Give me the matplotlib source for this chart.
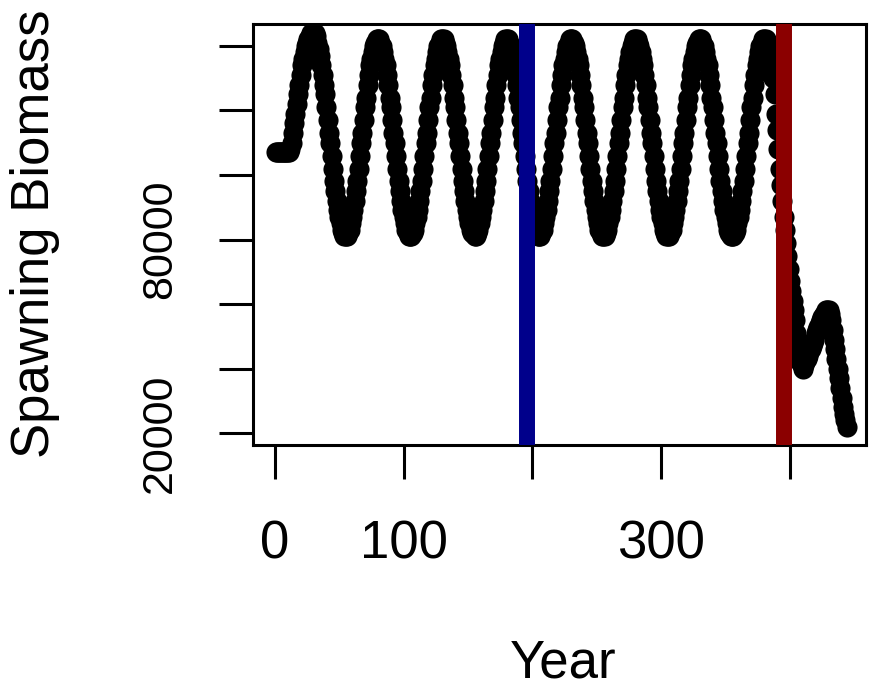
import matplotlib
matplotlib.use("Agg")
import matplotlib.pyplot as plt

# Spawning biomass by year, in thousands of tonnes
biomass_thousands = [
    # years 1-11
    107, 107, 107, 107, 107, 107, 107, 107, 107, 107, 107,
    # years 12-30
    108, 110, 113, 116, 119, 122, 125, 128, 131, 134, 136, 138, 140, 141, 142,
    143, 144, 144, 144,
    # years 31-55
    144, 143, 141, 139, 137, 134, 131, 128, 125, 121, 117, 113, 110, 106, 102,
    98, 95, 92, 89, 87, 85, 83, 82, 81, 81,
    # years 56-80
    81, 82, 83, 85, 87, 89, 92, 95, 98, 102, 106, 110, 113, 117, 121,
    124, 128, 131, 134, 136, 138, 140, 141, 142, 142,
    # years 81-105
    142, 141, 140, 138, 136, 134, 131, 128, 124, 121, 117, 113, 110, 106, 102,
    98, 95, 92, 89, 87, 85, 83, 82, 81, 81,
    # years 106-130
    81, 82, 83, 85, 87, 89, 92, 95, 98, 102, 106, 110, 113, 117, 121,
    124, 128, 131, 134, 136, 138, 140, 141, 142, 142,
    # years 131-155
    142, 141, 140, 138, 136, 134, 131, 128, 124, 121, 117, 113, 110, 106, 102,
    98, 95, 92, 89, 87, 85, 83, 82, 82, 81,
    # years 156-180
    81, 82, 83, 85, 87, 89, 92, 95, 98, 102, 106, 110, 113, 117, 121,
    124, 128, 131, 134, 136, 138, 140, 141, 142, 142,
    # years 181-205
    142, 141, 140, 138, 136, 134, 131, 128, 124, 121, 117, 113, 110, 106, 102,
    98, 95, 92, 89, 87, 85, 83, 82, 81, 81,
    # years 206-230
    81, 82, 83, 85, 87, 89, 92, 95, 98, 102, 106, 110, 113, 117, 121,
    124, 128, 131, 134, 136, 138, 140, 141, 142, 142,
    # years 231-255
    142, 141, 140, 138, 136, 134, 131, 128, 124, 121, 117, 113, 110, 106, 102,
    98, 95, 92, 89, 87, 85, 83, 82, 81, 81,
    # years 256-280
    81, 82, 83, 85, 87, 89, 92, 95, 98, 102, 106, 110, 113, 117, 121,
    124, 128, 131, 134, 136, 138, 140, 141, 142, 142,
    # years 281-305
    142, 141, 140, 138, 136, 134, 131, 128, 124, 121, 117, 113, 110, 106, 102,
    98, 95, 92, 89, 87, 85, 83, 82, 81, 81,
    # years 306-330
    81, 82, 83, 85, 87, 89, 92, 95, 98, 102, 106, 110, 113, 117, 121,
    124, 128, 131, 134, 136, 138, 140, 141, 142, 142,
    # years 331-355
    142, 141, 140, 138, 136, 134, 131, 128, 124, 121, 117, 113, 110, 106, 102,
    98, 95, 92, 89, 87, 85, 83, 82, 81, 81,
    # years 356-380
    81, 82, 83, 85, 87, 89, 92, 95, 98, 102, 106, 110, 113, 117, 121,
    124, 128, 131, 134, 136, 138, 140, 141, 142, 142,
    # years 381-444
    142, 141, 140, 138, 136, 133, 130, 125, 119, 114,
    108, 102, 97, 92, 87, 83, 79, 75, 71, 67,
    64, 61, 58, 55, 51, 47, 44, 42, 41, 40,
    41, 42, 43, 44, 45, 46, 47, 48, 49, 51,
    52, 53, 54, 55, 56, 57, 57, 58, 58, 58,
    57, 55, 52, 49, 46, 43, 40, 37, 34, 31,
    28, 26, 24, 22,
]
years = list(range(1, len(biomass_thousands) + 1))
spawning_biomass = [v * 1000 for v in biomass_thousands]

# Reference years marked with vertical lines
marker_years = [196, 395]
marker_colors = ["#00008B", "#8B0000"]

x_ticks = [0, 100, 200, 300, 400]
x_tick_labels = ["0", "100", "", "300", ""]
y_ticks = [20000, 40000, 60000, 80000, 100000, 120000, 140000]
y_tick_labels = ["20000", "", "", "80000", "", "", ""]

plt.rcParams["font.family"] = ["Liberation Sans", "DejaVu Sans"]

W, H = 869, 691
fig = plt.figure(figsize=(W / 100, H / 100), dpi=100)
left, right, top, bottom = 253, 866, 24, 445
ax = fig.add_axes([left / W, 1 - bottom / H, (right - left) / W, (bottom - top) / H])

ax.plot(years, spawning_biomass, "o", color="black", markersize=14.5,
        markeredgewidth=0, zorder=2)
for yr, col in zip(marker_years, marker_colors):
    ax.axvline(yr, color=col, linewidth=11.5, solid_capstyle="butt", zorder=3)

ax.set_xlim(-17, 459)
ax.set_ylim(16300, 146800)

ax.set_xticks(x_ticks)
ax.set_xticklabels(x_tick_labels, fontsize=38)
ax.set_yticks(y_ticks)
ax.set_yticklabels(y_tick_labels, fontsize=31, rotation=90, va="center")

ax.tick_params(axis="both", direction="out", length=24.5, width=2.2, color="black")
ax.tick_params(axis="x", pad=29)
ax.tick_params(axis="y", pad=28)

for sp in ax.spines.values():
    sp.set_linewidth(2.2)
    sp.set_color("black")

fig.text(563 / W, 1 - 689 / H, "Year", fontsize=38, ha="center", va="bottom")
fig.text(35 / W, 1 - 234 / H, "Spawning Biomass", fontsize=38, rotation=90,
         ha="center", va="center")

fig.savefig("out.png", dpi=100)
